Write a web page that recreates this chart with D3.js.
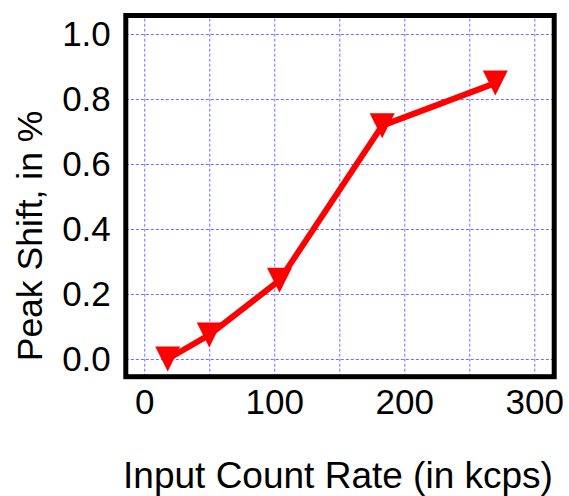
<!DOCTYPE html>
<html>
<head>
<meta charset="utf-8">
<script src="https://cdn.jsdelivr.net/npm/d3@7"></script>
<style>
  body { margin: 0; background: #fff; }
  svg { display: block; font-family: "Liberation Sans", Arial, sans-serif; }
  .grid line { stroke: #6f6fff; stroke-width: 1; stroke-dasharray: 3,2; }
  .grid .domain { display: none; }
  .lbl text { font-size: 35px; fill: #000; }
  .lbl .domain, .lbl line { display: none; }
</style>
</head>
<body>
<svg width="569" height="496"></svg>
<script>
// ---------------------------------------------------------------------
// Values
// ---------------------------------------------------------------------
const countRate  = [18, 50, 104, 183, 270];           // kcps
const peakShift  = [0.0, 0.074, 0.242, 0.718, 0.849]; // %
const xGridTicks = [0, 50, 100, 150, 200, 250, 300];
const xLabels    = [0, 100, 200, 300];
const yTicks     = [0.0, 0.2, 0.4, 0.6, 0.8, 1.0];

// plot box (left / right / top / bottom edges of the frame)
let svg    = d3.select("svg"),
    pLeft  = 125.8, pRight  = 554.2,
    pTop   = 15.5,  pBottom = 376.7,
    x      = d3.scaleLinear().domain([-14.2, 315.3]).range([pLeft, pRight]),
    y      = d3.scaleLinear().domain([-0.0545, 1.057]).range([pBottom, pTop]);

// dashed blue grid
svg.append("g")
    .attr("class", "grid")
    .attr("transform", `translate(0,${pBottom})`)
    .call(d3.axisBottom(x).tickValues(xGridTicks).tickFormat("")
      .tickSize(-(pBottom - pTop)).tickSizeOuter(0));

svg.append("g")
    .attr("class", "grid")
    .attr("transform", `translate(${pLeft},0)`)
    .call(d3.axisLeft(y).tickValues(yTicks).tickFormat("")
      .tickSize(-(pRight - pLeft)).tickSizeOuter(0));

// tick labels
svg.append("g")
    .attr("class", "lbl")
    .attr("transform", `translate(0,${pBottom})`)
    .call(d3.axisBottom(x).tickValues(xLabels).tickFormat(d3.format("d"))
      .tickSize(0).tickPadding(12));

svg.append("g")
    .attr("class", "lbl")
    .attr("transform", `translate(${pLeft},0)`)
    .call(d3.axisLeft(y).tickValues(yTicks).tickFormat(d3.format(".1f"))
      .tickSize(0).tickPadding(15));

// frame
svg.append("rect")
    .attr("x", pLeft).attr("y", pTop)
    .attr("width", pRight - pLeft).attr("height", pBottom - pTop)
    .attr("fill", "none").attr("stroke", "#000").attr("stroke-width", 5);

// series
let pts  = countRate.map((d, i) => [x(d), y(peakShift[i])]),
    line = d3.line();

svg.append("path")
    .attr("d", line(pts))
    .attr("fill", "none")
    .attr("stroke", "#ff0000")
    .attr("stroke-width", 6)
    .attr("stroke-linejoin", "round");

const s = 12.5;
svg.selectAll(".marker")
  .data(pts)
  .enter().append("path")
    .attr("class", "marker")
    .attr("d", p => `M${p[0] - s},${p[1] - s}L${p[0] + s},${p[1] - s}L${p[0]},${p[1] + s}Z`)
    .attr("fill", "#ff0000");

// axis titles
svg.append("text")
    .attr("x", 338).attr("y", 487.5)
    .attr("text-anchor", "middle")
    .style("font-size", "37px")
    .text("Input Count Rate (in kcps)");

svg.append("text")
    .attr("transform", "translate(42,236) rotate(-90)")
    .attr("text-anchor", "middle")
    .style("font-size", "35.5px")
    .text("Peak Shift, in %");
</script>
</body>
</html>
